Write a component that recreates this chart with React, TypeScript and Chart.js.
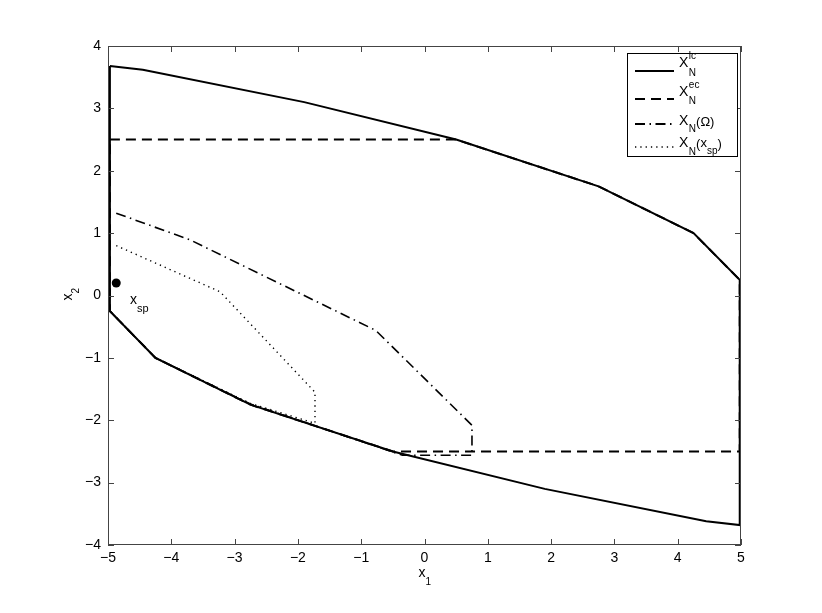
import React, { useEffect, useRef } from "react";
import { Chart, registerables } from "chart.js";
Chart.register(...registerables);

const FONT = "'Liberation Sans', Arial, Helvetica, sans-serif";

// Axis ticks
const xTickValues = [-5, -4, -3, -2, -1, 0, 1, 2, 3, 4, 5];
const yTickValues = [-4, -3, -2, -1, 0, 1, 2, 3, 4];

// X_N^lc (solid)
const lcX = [-4.97, -4.45, -1.9, 0.5, 2.75, 4.25, 4.98, 4.98, 4.45, 1.9, -0.5, -2.75, -4.25, -4.97, -4.97];
const lcY = [3.68, 3.62, 3.1, 2.5, 1.75, 1.0, 0.25, -3.68, -3.62, -3.1, -2.5, -1.75, -1.0, -0.25, 3.68];

// X_N^ec (dashed)
const ecX = [-4.97, 0.5, 2.75, 4.25, 4.98, 4.98, -0.5, -2.75, -4.25, -4.97, -4.97];
const ecY = [2.5, 2.5, 1.75, 1.0, 0.25, -2.5, -2.5, -1.75, -1.0, -0.25, 2.5];

// X_N(Omega) (dash-dot)
const omX = [-4.87, -3.7, -0.77, 0.75, 0.75, -0.35, -2.75, -4.25, -4.97];
const omY = [1.32, 0.89, -0.56, -2.08, -2.56, -2.56, -1.74, -1.0, -0.25];

// X_N(x_sp) (dotted)
const spX = [-4.87, -3.23, -1.73, -1.73, -2.75, -4.25, -4.97];
const spY = [0.8, 0.06, -1.55, -2.05, -1.73, -1.0, -0.25];

// x_sp point
const ptX = [-4.87];
const ptY = [0.2];

const fmt = (v: number) => (v < 0 ? "\u2212" + Math.abs(v) : String(v));
const toPts = (xs: number[], ys: number[]) => xs.map((x, i) => ({ x, y: ys[i] }));

function txt(ctx: CanvasRenderingContext2D, s: string, x: number, y: number, size: number) {
  ctx.font = `${size}px ${FONT}`;
  ctx.textAlign = "left";
  ctx.textBaseline = "alphabetic";
  ctx.fillText(s, x, y);
  return ctx.measureText(s).width;
}

const DASH = [10, 6];
const DASHDOT = [10, 4.5, 1.5, 4.5];
const DOT = [1.3, 4];

const overlay = {
  id: "overlay",
  afterDraw(chart: any) {
    const ctx: CanvasRenderingContext2D = chart.ctx;
    const { left, right, top, bottom } = chart.chartArea;
    const xs = chart.scales.x;
    const ys = chart.scales.y;
    ctx.save();
    // frame
    ctx.strokeStyle = "#444";
    ctx.lineWidth = 1;
    ctx.setLineDash([]);
    ctx.strokeRect(left + 0.5, top + 0.5, right - left - 1, bottom - top - 1);
    // inward ticks
    ctx.beginPath();
    xTickValues.forEach((v) => {
      const p = Math.round(xs.getPixelForValue(v)) + 0.5;
      ctx.moveTo(p, bottom);
      ctx.lineTo(p, bottom - 6);
      ctx.moveTo(p, top);
      ctx.lineTo(p, top + 6);
    });
    yTickValues.forEach((v) => {
      const p = Math.round(ys.getPixelForValue(v)) + 0.5;
      ctx.moveTo(left, p);
      ctx.lineTo(left + 6, p);
      ctx.moveTo(right, p);
      ctx.lineTo(right - 6, p);
    });
    ctx.stroke();

    ctx.fillStyle = "#000";
    // x axis title
    const cx = (left + right) / 2 - 3;
    let w = txt(ctx, "x", cx - 3, 577, 14);
    txt(ctx, "1", cx - 3 + w, 585, 10);
    // y axis title
    ctx.save();
    ctx.translate(72, (top + bottom) / 2 + 5);
    ctx.rotate(-Math.PI / 2);
    w = txt(ctx, "x", 0, 0, 14);
    txt(ctx, "2", w, 7, 10);
    ctx.restore();

    // x_sp annotation
    w = txt(ctx, "x", 130, 304, 14);
    txt(ctx, "sp", 130 + w, 312, 11);

    // legend
    const lx0 = 627, ly0 = 53, lx1 = 737, ly1 = 156;
    ctx.fillStyle = "#fff";
    ctx.fillRect(lx0, ly0, lx1 - lx0, ly1 - ly0);
    ctx.strokeStyle = "#000";
    ctx.lineWidth = 1;
    ctx.strokeRect(lx0 + 0.5, ly0 + 0.5, lx1 - lx0, ly1 - ly0);
    const rows = [
      { y: 71, dash: [] as number[], lw: 2 },
      { y: 99, dash: DASH, lw: 2 },
      { y: 124, dash: DASHDOT, lw: 1.8 },
      { y: 147, dash: DOT, lw: 1.4 },
    ];
    rows.forEach((r) => {
      ctx.beginPath();
      ctx.setLineDash(r.dash);
      ctx.lineWidth = r.lw;
      ctx.strokeStyle = "#000";
      ctx.moveTo(635, r.y);
      ctx.lineTo(674, r.y);
      ctx.stroke();
    });
    ctx.setLineDash([]);
    ctx.fillStyle = "#000";
    const X0 = 679;
    // row 1
    w = txt(ctx, "X", X0, 67, 14);
    txt(ctx, "lc", X0 + w + 0.5, 59, 10);
    txt(ctx, "N", X0 + w + 0.5, 76, 10);
    // row 2
    w = txt(ctx, "X", X0, 96, 14);
    txt(ctx, "ec", X0 + w + 0.5, 88, 10);
    txt(ctx, "N", X0 + w + 0.5, 104, 10);
    // row 3
    w = txt(ctx, "X", X0, 125, 14);
    let w2 = txt(ctx, "N", X0 + w + 0.5, 132, 10);
    txt(ctx, "(\u03A9)", X0 + w + 0.5 + w2, 126, 13);
    // row 4
    w = txt(ctx, "X", X0, 147, 14);
    let xx = X0 + w + 0.5;
    xx += txt(ctx, "N", xx, 155, 10);
    xx += txt(ctx, "(", xx, 148, 13);
    xx += txt(ctx, "x", xx, 147, 13);
    xx += txt(ctx, "sp", xx, 154, 10);
    txt(ctx, ")", xx, 148, 13);
    ctx.restore();
  },
};

export default function App() {
  const ref = useRef<HTMLCanvasElement>(null);
  useEffect(() => {
    const canvas = ref.current!;
    const chart = new Chart(canvas, {
      type: "scatter",
      data: {
        datasets: [
          { label: "lc", data: toPts(lcX, lcY), showLine: true, borderColor: "#000", borderWidth: 2, pointRadius: 0, fill: false },
          { label: "ec", data: toPts(ecX, ecY), showLine: true, borderColor: "#000", borderWidth: 2, borderDash: DASH, pointRadius: 0, fill: false },
          { label: "om", data: toPts(omX, omY), showLine: true, borderColor: "#000", borderWidth: 1.6, borderDash: DASHDOT, pointRadius: 0, fill: false },
          { label: "sp", data: toPts(spX, spY), showLine: true, borderColor: "#000", borderWidth: 1.4, borderDash: DOT, pointRadius: 0, fill: false },
          { label: "pt", data: toPts(ptX, ptY), showLine: false, pointRadius: 4.5, backgroundColor: "#000", borderColor: "#000", pointBorderWidth: 0 },
        ] as any,
      },
      options: {
        responsive: false,
        animation: false,
        layout: { padding: { top: 46, right: 81, bottom: 0, left: 0 } },
        plugins: { legend: { display: false }, tooltip: { enabled: false } },
        scales: {
          x: {
            type: "linear",
            min: -5,
            max: 5,
            grid: { display: false, drawTicks: false },
            border: { display: false },
            ticks: { padding: 5, color: "#000", font: { family: FONT, size: 14 }, callback: (v: any) => fmt(Number(v)) },
            afterBuildTicks: (s: any) => { s.ticks = xTickValues.map((v) => ({ value: v })); },
            afterFit: (s: any) => { s.height = 68; },
          },
          y: {
            type: "linear",
            min: -4,
            max: 4,
            grid: { display: false, drawTicks: false },
            border: { display: false },
            ticks: { padding: 7, color: "#000", font: { family: FONT, size: 14 }, callback: (v: any) => fmt(Number(v)) },
            afterBuildTicks: (s: any) => { s.ticks = yTickValues.map((v) => ({ value: v })); },
            afterFit: (s: any) => { s.width = 108; },
          },
        },
      } as any,
      plugins: [overlay],
    });
    return () => chart.destroy();
  }, []);
  return (
    <div style={{ position: "absolute", left: 0, top: 0, width: 822, height: 613, background: "#fff" }}>
      <canvas ref={ref} width={822} height={613} style={{ display: "block" }} />
    </div>
  );
}
